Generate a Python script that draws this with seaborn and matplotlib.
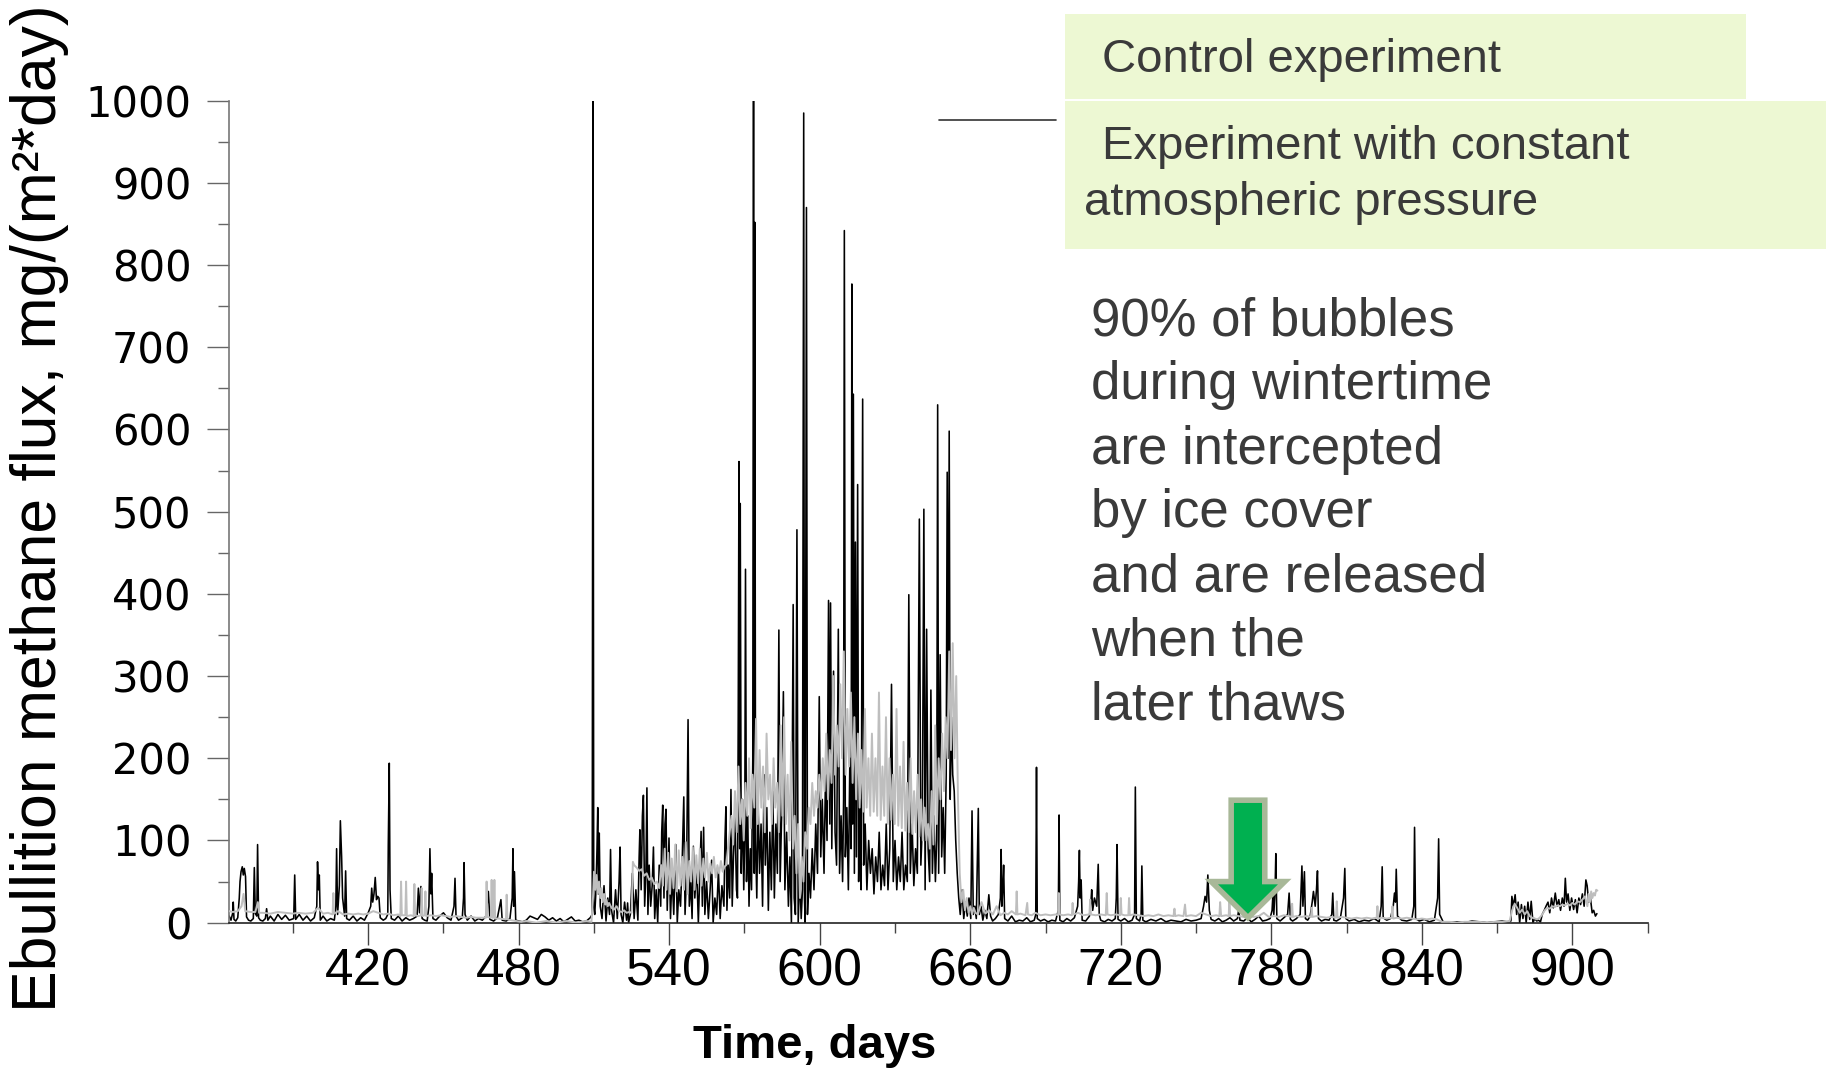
import matplotlib
matplotlib.use("Agg")
import matplotlib.pyplot as plt
import seaborn as sns
import pandas as pd
from matplotlib.patches import Rectangle, Polygon
from matplotlib.lines import Line2D
from matplotlib.ticker import MultipleLocator

# ---------------- data ----------------
# Control experiment (black line): day, flux mg/(m2*day)
ctrl_day_a = [
    364.6, 365.3, 366.0, 366.2, 366.5, 367.2, 368.0, 368.6, 368.9, 369.3,
    369.8, 370.2, 370.6, 371.1, 371.5, 372.3, 373.2, 374.2, 374.6, 375.0,
    375.6, 375.9, 376.3, 377.0, 378.0, 379.0, 379.5, 380.0, 381.0, 382.5,
    384.0, 385.5, 387.0, 388.5, 390.3, 390.7, 391.1, 392.5, 394.0, 395.5,
    397.0, 398.5, 399.5, 399.8, 400.2, 400.5, 400.9, 402.0, 403.5, 405.0,
    406.5, 407.1, 407.4, 407.8, 408.5, 408.9, 409.4, 409.8, 410.6, 411.0,
    411.4, 412.5, 414.0, 415.5, 417.0, 418.5, 420.0, 421.0, 421.4, 421.8,
    422.3, 422.8, 423.3, 423.8, 424.3, 424.8]
ctrl_flux_a = [
    8, 3, 12, 25, 4, 2, 6, 30, 50, 62,
    68, 58, 66, 56, 7, 3, 2, 5, 67, 11,
    8, 95, 6, 3, 2, 5, 17, 3, 8, 2,
    10, 4, 9, 3, 5, 58, 4, 10, 3, 8,
    2, 6, 20, 74, 40, 58, 3, 8, 2, 5,
    3, 20, 90, 10, 45, 124, 80, 30, 8, 63,
    5, 3, 8, 2, 6, 3, 12, 20, 42, 25,
    35, 55, 28, 32, 30, 6]

ctrl_day_b = [
    426.0, 427.0, 427.8, 428.0, 428.4, 428.7, 429.2, 430.5, 432.0, 433.5,
    435.0, 436.5, 438.0, 439.5, 440.0, 440.5, 441.0, 441.5, 442.5, 443.5,
    444.2, 444.6, 445.0, 445.3, 445.8, 447.0, 448.5, 450.0, 451.5, 453.0,
    454.2, 454.6, 455.0, 456.0, 457.5, 458.0, 458.2, 458.6, 459.5, 461.0,
    462.5, 464.0, 465.5, 467.0, 467.9, 468.5, 470.0, 471.5, 472.9, 473.4,
    475.0, 476.5, 477.4, 477.7, 478.0, 478.3, 478.8, 480.0, 481.5, 483.0,
    484.5, 486.0, 487.5, 489.0, 490.5, 492.0, 493.5, 495.0, 496.5, 498.0,
    499.5, 501.0, 502.5, 504.0, 505.5, 507.0, 508.5, 509.3, 509.6, 509.9]
ctrl_flux_b = [
    3, 5, 10, 94, 194, 40, 5, 3, 8, 2,
    6, 3, 5, 8, 42, 12, 44, 5, 3, 2,
    20, 90, 35, 60, 5, 3, 8, 12, 6, 3,
    20, 54, 8, 3, 6, 30, 73, 10, 3, 8,
    2, 5, 3, 8, 38, 4, 2, 6, 28, 3,
    2, 5, 30, 90, 20, 62, 3, 2, 1, 3,
    8, 6, 4, 10, 7, 3, 6, 2, 5, 1,
    4, 7, 2, 3, 1, 2, 6, 10, 1000, 20]

ctrl_day_c = [
    510.3, 510.8, 511.2, 511.5, 511.8, 512.1, 512.5, 513.2, 514.0, 514.8,
    515.5, 516.2, 516.6, 517.0, 517.8, 518.6, 519.3, 520.0, 520.4, 520.8,
    521.5, 522.2, 523.0, 523.4, 523.8, 524.5, 525.3, 526.0, 526.7, 527.5,
    528.0, 528.3, 528.8, 529.3, 529.7, 530.2, 530.7, 531.1, 531.5, 532.0,
    532.6, 533.2, 533.7, 534.2, 534.8, 535.4, 536.0, 536.6, 537.0, 537.4,
    537.9, 538.3, 538.7, 539.2, 539.9, 540.5, 541.1, 541.8, 542.6, 543.2,
    543.8, 544.5, 545.2, 545.8, 546.3, 546.9, 547.5, 548.0, 548.6, 549.1,
    549.6, 550.2, 550.9, 551.6, 552.2, 552.7, 553.2, 553.7, 554.2, 554.9,
    555.6, 556.3, 556.9, 557.5, 558.2, 558.9, 559.6, 560.3, 561.0, 561.8,
    562.2, 562.6, 563.0, 563.5, 564.1, 564.6, 565.1, 565.6, 566.2, 566.8]
ctrl_flux_c = [
    10, 40, 90, 140, 35, 109, 20, 5, 45, 2,
    30, 10, 89, 15, 0, 40, 5, 50, 92, 10,
    0, 25, 3, 24, 0, 10, 60, 5, 40, 3,
    80, 113, 40, 130, 155, 20, 60, 164, 10, 70,
    20, 45, 92, 5, 40, 0, 70, 20, 110, 143,
    30, 120, 138, 15, 103, 5, 60, 10, 95, 0,
    40, 20, 80, 153, 10, 60, 247, 20, 50, 5,
    93, 30, 70, 0, 60, 111, 20, 116, 10, 50,
    5, 40, 76, 0, 30, 10, 64, 5, 45, 20,
    100, 141, 15, 70, 30, 162, 20, 80, 129, 40]

ctrl_day_d = [
    567.2, 567.5, 567.8, 568.1, 568.3, 568.7, 569.2, 569.7, 570.1, 570.4,
    570.8, 571.3, 571.8, 572.3, 572.8, 573.3, 573.6, 573.9, 574.1, 574.4,
    574.9, 575.4, 576.0, 576.6, 577.2, 577.8, 578.3, 578.9, 579.5, 580.1,
    580.7, 581.3, 581.9, 582.5, 583.1, 583.7, 584.2, 584.8, 585.5, 586.1,
    586.8, 587.5, 588.1, 588.7, 589.4, 589.8, 590.3, 590.9, 591.4, 592.0,
    592.6, 593.1, 593.6, 593.9, 594.2, 594.7, 595.1, 595.7, 596.3, 597.0,
    597.7, 598.4, 599.1, 599.8, 600.4, 601.0, 601.7, 602.3, 602.9, 603.5,
    604.0, 604.3, 604.8, 605.5, 606.1, 606.7, 607.4, 607.9, 608.5, 609.1,
    609.5, 609.8, 610.2, 610.8, 611.4, 612.0, 612.5, 612.8, 613.1, 613.4,
    613.8, 614.2, 614.6, 615.1, 615.5, 616.0, 616.5, 617.1, 617.5, 618.1,
    618.8, 619.5, 620.2, 620.9, 621.6, 622.3, 623.0, 623.7, 624.4, 625.1,
    625.8, 626.5, 627.2, 627.9, 628.6, 629.3, 630.0, 630.7, 631.4, 632.1,
    632.8, 633.5, 634.2, 634.9, 635.5, 636.1, 636.8, 637.5, 638.2, 638.9,
    639.7, 640.3, 640.9, 641.5, 642.0, 642.6, 643.2, 643.8, 644.3, 644.9,
    645.5, 646.1, 646.6, 647.0, 647.4, 648.0, 648.6, 649.2, 649.8, 650.4,
    650.8, 651.2, 651.6, 652.0, 652.5, 653.0, 653.6, 654.2, 654.8, 655.4,
    656.0, 656.7, 657.4, 658.1, 658.8, 659.5, 660.2, 660.7, 661.2, 661.8,
    662.4, 663.2, 663.6, 664.3, 665.0, 665.8, 666.6, 667.4, 668.1, 668.9]
ctrl_flux_d = [
    30, 250, 561, 90, 510, 60, 150, 40, 100, 430,
    50, 130, 20, 90, 40, 200, 1000, 60, 852, 100,
    30, 150, 60, 120, 20, 180, 70, 140, 15, 110,
    40, 160, 30, 120, 60, 356, 50, 130, 281, 40,
    110, 20, 80, 0, 387, 30, 10, 478, 0, 60,
    5, 40, 985, 30, 0, 870, 10, 60, 30, 90,
    40, 120, 60, 275, 80, 150, 60, 180, 100, 392,
    120, 389, 90, 306, 110, 70, 357, 60, 130, 50,
    150, 842, 80, 140, 40, 200, 90, 777, 120, 643,
    60, 463, 80, 533, 50, 150, 40, 637, 70, 120,
    40, 100, 60, 90, 35, 80, 50, 110, 40, 70,
    45, 120, 40, 90, 290, 50, 100, 40, 80, 50,
    110, 40, 70, 50, 399, 60, 120, 45, 90, 60,
    491, 70, 120, 503, 40, 357, 90, 50, 283, 60,
    130, 50, 100, 630, 60, 326, 80, 140, 60, 180,
    548, 200, 598, 150, 250, 180, 160, 100, 60, 30,
    10, 40, 5, 25, 8, 30, 5, 136, 10, 20,
    5, 139, 10, 20, 3, 15, 5, 34, 8, 2]

ctrl_day_e = [
    670.0, 671.2, 672.0, 672.3, 672.6, 673.0, 673.3, 673.7, 675.0, 676.5,
    678.0, 679.5, 681.0, 682.5, 684.0, 685.5, 686.1, 686.4, 686.7, 688.0,
    689.5, 691.0, 692.5, 694.0, 695.1, 695.4, 695.7, 697.0, 698.5, 700.0,
    701.5, 702.8, 703.2, 703.5, 703.8, 704.2, 704.6, 706.0, 707.5, 708.1,
    708.4, 708.8, 709.5, 710.4, 710.7, 711.0, 711.4, 712.0, 713.5, 715.0,
    716.5, 717.8, 718.2, 718.5, 718.9, 720.0, 721.5, 723.0, 724.5, 725.5,
    725.8, 726.2, 727.5, 728.1, 728.4, 728.8, 730.0, 732.0, 734.0, 736.0,
    738.0, 740.0, 742.0, 744.0, 746.0, 748.0, 750.0, 752.0, 753.0, 753.6,
    754.2, 754.7, 755.3, 756.0, 757.5, 759.0, 760.5, 762.0, 763.5, 765.0,
    766.5, 767.0, 767.5, 769.0, 770.5, 772.0, 773.5, 775.0, 776.5, 778.0,
    779.5, 780.3, 780.6, 781.0, 781.5, 781.8, 782.2, 783.5, 785.0, 786.5,
    787.1, 787.6, 788.5, 790.0, 791.5, 792.2, 792.6, 793.2, 793.6, 794.5,
    795.5, 796.3, 796.8, 797.5, 798.0, 798.4, 798.8, 800.0, 801.5, 803.0,
    804.1, 804.5, 804.9, 806.0, 807.5, 808.8, 809.3, 809.7, 811.0, 813.0,
    815.0, 817.0, 819.0, 821.0, 823.0, 823.8, 824.2, 824.6, 826.0, 827.5,
    828.6, 829.1, 829.5, 829.8, 830.3, 832.0, 834.0, 836.0, 836.8, 837.1,
    837.5, 839.0, 841.0, 843.0, 845.0, 846.3, 846.7, 847.1, 848.5, 851.0,
    854.0, 857.0, 860.0, 863.0, 866.0, 869.0, 872.0, 874.0, 875.5, 875.9,
    876.5, 877.2, 877.8, 878.4, 879.0, 879.7, 880.3, 881.0, 881.6, 882.3,
    883.0, 883.6, 884.3, 885.0, 885.8, 886.5, 887.3, 888.0, 888.8, 889.5,
    890.3, 891.0, 891.7, 892.4, 893.2, 893.9, 894.6, 895.3, 896.0, 896.7,
    897.2, 897.7, 898.3, 899.0, 899.7, 900.5, 901.2, 901.9, 902.6, 903.3,
    904.0, 904.7, 905.4, 905.9, 906.5, 907.2, 907.9, 908.5, 909.2, 909.8]
ctrl_flux_e = [
    5, 10, 30, 89, 20, 45, 70, 5, 2, 8,
    1, 3, 2, 6, 1, 3, 10, 189, 5, 2,
    4, 1, 3, 2, 15, 131, 3, 1, 5, 2,
    6, 20, 50, 88, 30, 52, 3, 2, 8, 25,
    40, 15, 30, 20, 45, 71, 10, 3, 1, 4,
    2, 5, 30, 95, 4, 2, 5, 1, 3, 10,
    165, 5, 2, 10, 69, 3, 1, 4, 2, 5,
    1, 3, 2, 1, 4, 2, 3, 5, 20, 32,
    25, 58, 15, 4, 2, 5, 1, 3, 6, 2,
    5, 16, 3, 2, 6, 1, 4, 8, 2, 3,
    5, 15, 32, 10, 40, 84, 5, 2, 6, 10,
    36, 4, 2, 5, 10, 69, 20, 62, 5, 3,
    8, 25, 38, 20, 40, 63, 5, 2, 4, 3,
    10, 36, 3, 2, 5, 30, 66, 5, 2, 4,
    1, 3, 2, 5, 1, 20, 68, 6, 3, 5,
    20, 36, 25, 65, 8, 3, 2, 4, 20, 116,
    5, 2, 4, 1, 3, 30, 102, 10, 1, 0,
    1, 0, 2, 1, 0, 1, 2, 1, 2, 32,
    20, 34, 10, 25, 0, 22, 5, 20, 0, 25,
    4, 26, 0, 5, 2, 3, 1, 10, 15, 20,
    25, 12, 30, 18, 36, 20, 28, 15, 30, 20,
    54, 25, 35, 15, 30, 16, 28, 12, 30, 22,
    35, 20, 52, 45, 25, 30, 12, 15, 8, 11]

# Experiment with constant atmospheric pressure (grey line)
pres_day = [
    364.6, 366.0, 368.0, 369.5, 370.3, 371.0, 373.0, 375.0, 376.0, 376.5,
    378.0, 381.0, 384.0, 387.0, 390.0, 392.0, 395.0, 398.0, 400.0, 402.0,
    404.0, 405.8, 406.1, 406.4, 408.0, 410.0, 412.0, 414.0, 416.0, 418.0,
    420.0, 422.0, 424.0, 426.0, 428.0, 430.0, 432.0, 432.8, 433.1, 433.4,
    434.8, 435.1, 435.4, 437.0, 438.1, 438.4, 438.7, 440.0, 441.0, 441.3,
    441.6, 442.5, 442.8, 443.1, 445.0, 447.0, 449.0, 451.0, 453.0, 455.0,
    457.0, 459.0, 461.0, 463.0, 465.0, 466.9, 467.2, 467.5, 468.9, 469.2,
    469.5, 470.0, 470.3, 470.6, 472.0, 474.9, 475.2, 475.5, 477.0, 479.0,
    481.0, 483.0, 485.0, 487.0, 489.0, 491.0, 493.0, 495.0, 497.0, 499.0,
    501.0, 503.0, 505.0, 507.0, 509.0, 509.6, 510.0, 510.5, 511.0, 511.5,
    512.0, 512.5, 513.0, 513.5, 514.0, 514.5, 515.0, 515.5, 516.0, 517.0,
    518.0, 519.0, 520.0, 521.0, 522.0, 523.0, 524.0, 525.0, 525.5, 526.0,
    527.0, 528.0, 529.0, 530.0, 531.0, 532.0, 533.0, 534.0, 535.0, 536.0,
    536.8, 537.5, 538.2, 538.9, 539.6, 540.3, 541.0, 541.7, 542.4, 543.1,
    543.8, 544.5, 545.2, 545.9, 546.6, 547.3, 548.0, 548.7, 549.4, 550.1,
    550.8, 551.5, 552.2, 552.9, 553.6, 554.3, 555.0, 555.7, 556.4, 557.1,
    557.8, 558.5, 559.2, 559.9, 560.6, 561.3, 562.0, 562.7, 563.4, 564.1,
    564.8, 565.5, 566.2, 566.9, 567.6, 568.3, 569.0, 569.7, 570.4, 571.1,
    571.8, 572.5, 573.2, 573.9, 574.6, 575.3, 576.0, 576.7, 577.4, 578.1,
    578.8, 579.5, 580.2, 580.9, 581.6, 582.3, 583.0, 583.7, 584.4, 585.1,
    585.8, 586.5, 587.2, 587.9, 588.6, 589.3, 590.0, 590.7, 591.4, 592.1,
    592.8, 593.5, 594.2, 594.9, 595.6, 596.3, 597.0, 597.7, 598.4, 599.1,
    599.8, 600.5, 601.2, 601.9, 602.6, 603.3, 604.0, 604.7, 605.4, 606.1,
    606.8, 607.5, 608.2, 608.9, 609.6, 610.3, 611.0, 611.7, 612.4, 613.1,
    613.8, 614.5, 615.2, 615.9, 616.6, 617.3, 618.0, 618.7, 619.4, 620.1,
    620.8, 621.5, 622.2, 622.9, 623.6, 624.3, 625.0, 625.7, 626.4, 627.1,
    627.8, 628.5, 629.2, 629.9, 630.6, 631.3, 632.0, 632.7, 633.4, 634.1,
    634.8, 635.5, 636.2, 636.9, 637.6, 638.3, 639.0, 639.7, 640.4, 641.1,
    641.8, 642.5, 643.2, 643.9, 644.6, 645.3, 646.0, 646.7, 647.4, 648.1,
    648.8, 649.5, 650.2, 650.9, 651.6, 652.3, 653.0, 653.7, 654.4, 655.1,
    655.8, 656.5, 657.2, 657.9, 658.6, 659.3, 660.0, 660.7, 661.4, 662.1,
    663.0, 664.5, 666.0, 667.5, 669.0, 670.5, 672.0, 673.5, 675.0, 676.5,
    678.2, 678.5, 678.8, 680.0, 682.0, 682.7, 683.0, 684.5, 686.0, 688.0,
    690.0, 692.0, 694.0, 695.0, 695.3, 695.6, 697.0, 699.0, 700.5, 700.8,
    701.1, 703.0, 705.0, 707.5, 707.8, 708.1, 710.0, 712.0, 714.0, 714.4,
    714.7, 716.0, 718.0, 719.7, 720.0, 720.3, 721.5, 723.0, 723.3, 723.6,
    725.0, 727.0, 729.0, 731.0, 733.0, 735.0, 737.0, 739.0, 741.0, 741.4,
    741.7, 743.0, 745.0, 745.6, 746.0, 748.0, 750.0, 752.0, 754.0, 756.0,
    758.0, 759.3, 759.6, 760.0, 762.0, 763.0, 763.3, 763.6, 765.0, 767.0,
    769.0, 771.0, 773.0, 775.0, 777.0, 779.0, 781.0, 783.0, 785.0, 787.0,
    788.0, 788.3, 788.6, 790.0, 792.0, 794.0, 795.8, 796.1, 796.4, 798.0,
    800.0, 802.0, 804.0, 805.8, 806.1, 806.4, 808.0, 810.0, 812.0, 814.0,
    816.0, 818.0, 820.0, 822.0, 822.3, 822.6, 824.0, 826.0, 828.0, 828.3,
    828.6, 830.0, 832.0, 834.0, 836.0, 838.0, 840.0, 842.0, 844.0, 846.0,
    848.0, 851.0, 854.0, 857.0, 860.0, 863.0, 866.0, 869.0, 872.0, 875.0,
    876.0, 877.0, 878.0, 879.0, 880.0, 881.0, 882.0, 883.0, 884.0, 885.0,
    886.0, 887.0, 888.0, 889.0, 890.0, 891.0, 892.0, 893.0, 894.0, 895.0,
    896.0, 897.0, 898.0, 899.0, 900.0, 901.0, 902.0, 903.0, 904.0, 905.0,
    906.0, 906.5, 907.0, 907.5, 908.0, 908.5, 909.0, 909.5, 910.0]
pres_flux = [
    14, 13, 14, 20, 35, 14, 13, 13, 25, 12,
    12, 11, 13, 12, 11, 12, 11, 12, 18, 11,
    12, 10, 36, 11, 14, 10, 11, 10, 11, 10,
    11, 14, 12, 10, 11, 9, 10, 8, 50, 9,
    9, 50, 8, 9, 8, 47, 9, 8, 9, 42,
    8, 9, 38, 8, 9, 8, 9, 8, 7, 8,
    7, 6, 7, 6, 6, 6, 50, 7, 6, 52,
    6, 6, 52, 5, 5, 4, 34, 4, 3, 2,
    1, 2, 1, 0, 1, 2, 1, 0, 1, 2,
    1, 0, 1, 2, 1, 30, 62, 40, 58, 35,
    50, 30, 42, 25, 35, 22, 28, 20, 24, 18,
    16, 20, 14, 13, 15, 12, 13, 12, 74, 70,
    67, 63, 65, 57, 60, 52, 55, 47, 50, 42,
    70, 45, 90, 40, 85, 35, 78, 42, 95, 38,
    88, 45, 80, 40, 98, 35, 75, 50, 92, 40,
    82, 48, 90, 45, 78, 55, 85, 50, 72, 60,
    80, 55, 70, 60, 75, 62, 68, 70, 90, 110,
    130, 95, 160, 110, 190, 120, 150, 100, 170, 130,
    200, 115, 180, 140, 248, 120, 210, 140, 190, 110,
    230, 150, 180, 120, 200, 140, 170, 110, 240, 130,
    250, 120, 180, 100, 220, 90, 130, 60, 120, 30,
    80, 50, 110, 90, 140, 120, 170, 130, 160, 140,
    180, 150, 200, 160, 230, 150, 210, 170, 300, 180,
    240, 190, 290, 200, 330, 180, 260, 190, 280, 170,
    250, 150, 230, 140, 210, 135, 260, 140, 200, 130,
    230, 135, 200, 130, 280, 125, 190, 130, 250, 120,
    200, 125, 180, 120, 260, 118, 190, 115, 220, 112,
    170, 110, 200, 108, 160, 110, 180, 105, 150, 100,
    140, 100, 120, 90, 160, 95, 240, 120, 200, 150,
    230, 160, 250, 200, 330, 210, 340, 200, 300, 150,
    60, 25, 40, 15, 30, 12, 20, 10, 18, 12,
    10, 25, 11, 15, 10, 20, 9, 12, 10, 14,
    10, 38, 10, 11, 9, 24, 10, 9, 12, 9,
    10, 9, 10, 9, 36, 10, 9, 10, 9, 24,
    10, 12, 9, 10, 28, 10, 9, 10, 9, 36,
    10, 9, 10, 9, 30, 10, 9, 9, 30, 9,
    10, 9, 8, 9, 8, 10, 8, 9, 8, 17,
    8, 9, 8, 22, 8, 9, 8, 12, 10, 8,
    9, 8, 25, 8, 9, 8, 28, 8, 9, 8,
    7, 8, 7, 8, 12, 7, 8, 7, 9, 8,
    7, 23, 7, 8, 7, 8, 7, 18, 7, 8,
    7, 6, 7, 6, 26, 6, 7, 6, 5, 6,
    5, 6, 5, 6, 20, 5, 6, 5, 6, 20,
    5, 6, 5, 6, 5, 4, 5, 4, 5, 4,
    1, 1, 0, 1, 1, 1, 0, 1, 1, 2,
    15, 23, 18, 12, 16, 10, 14, 8, 6, 5,
    4, 6, 10, 15, 18, 17, 20, 19, 21, 20,
    22, 21, 23, 21, 24, 22, 26, 25, 28, 32,
    20, 35, 25, 38, 30, 36, 33, 40, 39]

y_ticks = [0, 100, 200, 300, 400, 500, 600, 700, 800, 900, 1000]
x_ticks = [420, 480, 540, 600, 660, 720, 780, 840, 900]

legend_labels = ["Control experiment", "Experiment with constant", "atmospheric pressure"]
note_lines = ["90% of bubbles", "during wintertime", "are intercepted",
              "by ice cover", "and are released", "when the", "later thaws"]

# ---------------- figure ----------------
sns.set_theme(style="white")
plt.rcParams['font.family'] = ['Liberation Sans', 'DejaVu Sans']

fig = plt.figure(figsize=(18.26, 10.71), dpi=100)
ax = fig.add_axes([0.1254, 0.1385, 0.7769, 0.7675])

ctrl = pd.DataFrame({
    "day": ctrl_day_a + ctrl_day_b + ctrl_day_c + ctrl_day_d + ctrl_day_e,
    "flux": ctrl_flux_a + ctrl_flux_b + ctrl_flux_c + ctrl_flux_d + ctrl_flux_e,
})
pres = pd.DataFrame({"day": pres_day, "flux": pres_flux})

sns.lineplot(data=ctrl, x="day", y="flux", ax=ax, color="black", linewidth=1.15,
             estimator=None, sort=False, zorder=2)
sns.lineplot(data=pres, x="day", y="flux", ax=ax, color="#BEBEBE", linewidth=1.4,
             estimator=None, sort=False, zorder=3)

ax.set_xlim(364.5, 930)
ax.set_ylim(0, 1000)
ax.set_xlabel("")
ax.set_ylabel("")

ax.set_xticks(x_ticks)
ax.set_xticklabels([str(v) for v in x_ticks])
ax.xaxis.set_minor_locator(MultipleLocator(30))
ax.set_yticks(y_ticks)
ax.set_yticklabels([str(v) for v in y_ticks])
ax.yaxis.set_minor_locator(MultipleLocator(50))

ax.tick_params(axis="x", which="major", direction="out", length=16, width=1.0,
               color="#444444", labelsize=37, pad=2, labelcolor="black", bottom=True)
ax.tick_params(axis="x", which="minor", direction="out", length=7, width=1.0,
               color="#444444", bottom=True)
ax.tick_params(axis="y", which="major", direction="out", length=16, width=1.0,
               color="#666666", labelsize=30, pad=11, labelcolor="black", left=True)
ax.tick_params(axis="y", which="minor", direction="out", length=8, width=1.0,
               color="#666666", left=True)
for lbl in ax.get_yticklabels():
    lbl.set_fontfamily("DejaVu Sans")

for side in ("top", "right"):
    ax.spines[side].set_visible(False)
ax.spines["left"].set_color("#777777")
ax.spines["left"].set_linewidth(1.2)
ax.spines["bottom"].set_color("#222222")
ax.spines["bottom"].set_linewidth(1.2)

# green arrow (annotation)
arrow_day, arrow_tip, arrow_neck, arrow_top = 770.7, 6, 50, 149
shaft_hw, head_hw = 6.7, 14.65
arrow = Polygon([(arrow_day - shaft_hw, arrow_top), (arrow_day + shaft_hw, arrow_top),
                 (arrow_day + shaft_hw, arrow_neck), (arrow_day + head_hw, arrow_neck),
                 (arrow_day, arrow_tip), (arrow_day - head_hw, arrow_neck),
                 (arrow_day - shaft_hw, arrow_neck)],
                closed=True, facecolor="#00B050", edgecolor="#A8B898",
                linewidth=4, zorder=10, clip_on=False)
ax.add_patch(arrow)

# axis titles
fig.text(0.0215, 0.5254, "Ebullition methane flux, mg/(m²*day)", rotation=90,
         ha="center", va="center", fontsize=45, color="black")
fig.text(0.4463, 0.0233, "Time, days", ha="center", va="center",
         fontsize=34, fontweight="bold", color="black")

# legend fragment line
fig.add_artist(Line2D([0.514, 0.5783], [0.888, 0.888], transform=fig.transFigure,
                      color="#333333", linewidth=1.2, zorder=4))

# legend boxes
box_color = "#EDF8D3"
fig.add_artist(Rectangle((0.5835, 0.9076), 0.3725, 0.0794, transform=fig.transFigure,
                         facecolor=box_color, edgecolor="none", zorder=5))
fig.add_artist(Rectangle((0.5835, 0.7673), 0.4165, 0.1381, transform=fig.transFigure,
                         facecolor=box_color, edgecolor="none", zorder=5))
text_color = "#3A3A3A"
fig.text(0.6033, 0.9326, legend_labels[0], ha="left", va="baseline", fontsize=34,
         color=text_color, zorder=6)
fig.text(0.6033, 0.8511, legend_labels[1], ha="left", va="baseline", fontsize=34,
         color=text_color, zorder=6)
fig.text(0.5937, 0.7989, legend_labels[2], ha="left", va="baseline", fontsize=34,
         color=text_color, zorder=6)

# note text
note_y = [0.6868, 0.6271, 0.5672, 0.5075, 0.4476, 0.3879, 0.3280]
for line, yy in zip(note_lines, note_y):
    fig.text(0.5975, yy, line, ha="left", va="baseline", fontsize=38,
             color=text_color, zorder=6)

fig.savefig("out.png", dpi=100)
